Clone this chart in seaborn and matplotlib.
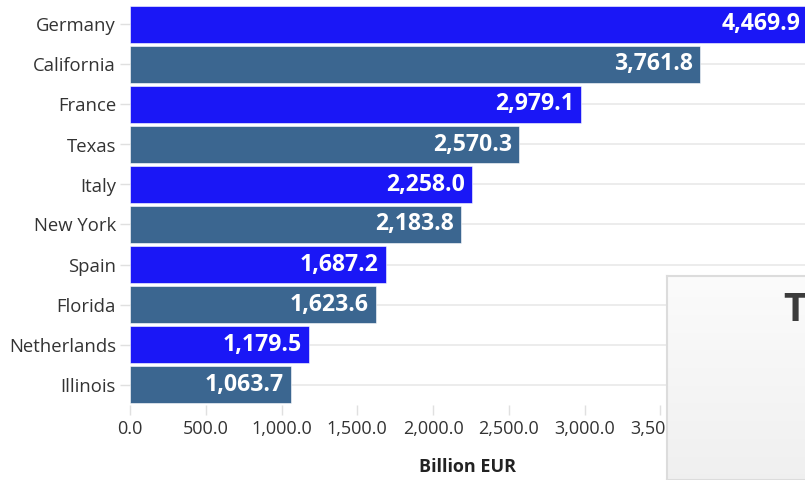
import matplotlib
matplotlib.use("Agg")
import matplotlib.pyplot as plt
from matplotlib.ticker import FuncFormatter, MultipleLocator
import numpy as np
import seaborn as sns
import pandas as pd

# GDP of European countries and US states
regions = ["Germany", "California", "France", "Texas", "Italy",
           "New York", "Spain", "Florida", "Netherlands", "Illinois"]
gdp_billion_eur = [4469.9, 3761.8, 2979.1, 2570.3, 2258.0,
                   2183.8, 1687.2, 1623.6, 1179.5, 1063.7]
region_kind = ["Country", "US state", "Country", "US state", "Country",
               "US state", "Country", "US state", "Country", "US state"]
kind_colors = {"Country": "#1a17f6", "US state": "#3b6690"}
x_title = "Billion EUR"

df = pd.DataFrame({"region": regions, "gdp": gdp_billion_eur, "kind": region_kind})

sns.set_theme(style="white")
plt.rcParams["font.family"] = ["Open Sans", "DejaVu Sans"]

fig = plt.figure(figsize=(8.05, 4.8), dpi=100)
ax = fig.add_axes([130 / 805, 75.5 / 480, (805 - 130) / 805, 400 / 480])

sns.barplot(data=df, y="region", x="gdp", hue="kind", palette=kind_colors,
            dodge=False, legend=False, width=0.925, orient="h", ax=ax,
            saturation=1, zorder=2, edgecolor="#ffffff", linewidth=0.4)

ax.set_xlim(0, 675 / 0.1515)
ax.set_ylim(len(regions) - 0.5, -0.5)

# horizontal guide lines at each category
for i in range(len(regions)):
    ax.axhline(i, color="#ebebeb", linewidth=1.3, zorder=0)

for s in ax.spines.values():
    s.set_visible(False)

ax.xaxis.set_major_locator(MultipleLocator(500))
ax.xaxis.set_major_formatter(FuncFormatter(lambda v, p: f"{v:,.1f}"))
ax.tick_params(axis="x", which="major", bottom=True, length=7, width=1,
               color="#e0e0e0", labelsize=13, labelcolor="#333333", pad=4)
ax.tick_params(axis="y", which="major", left=True, length=7, width=1,
               color="#e0e0e0", labelsize=13.3, labelcolor="#333333", pad=3)
ax.set_ylabel("")
ax.set_xlabel(x_title, fontsize=13, fontweight="bold", color="#222222")
ax.xaxis.set_label_coords(0.5, -(467 - 404.5) / 400, transform=ax.transAxes)
ax.xaxis.label.set_va("center")

# value labels inside bar ends
for i, v in enumerate(gdp_billion_eur):
    ax.annotate(f"{v:,.1f}", xy=(v, i), xytext=(-5, 0), textcoords="offset points",
                ha="right", va="center", color="white", fontsize=16.6,
                fontweight="bold", zorder=5, annotation_clip=False)

# popup panel in the lower right corner
pl, pt = 667 / 805, (480 - 276) / 480
pax = fig.add_axes([pl, 0, 1 - pl + 0.01, pt], zorder=10)
grad = np.linspace(0.985, 0.94, 256).reshape(-1, 1)
pax.imshow(np.dstack([grad, grad, grad]), aspect="auto", extent=(0, 1, 0, 1),
           origin="upper")
pax.set_xlim(0, 1)
pax.set_ylim(0, 1)
pax.set_xticks([])
pax.set_yticks([])
for s in pax.spines.values():
    s.set_color("#dcdcdc")
    s.set_linewidth(1.5)
pax.text((783 / 805 - pl) / (1 - pl + 0.01), 1 - (323 - 276) / 276, "T",
         transform=pax.transAxes, fontsize=29, fontweight="bold",
         color="#3c3c3c", ha="left", va="center")

fig.savefig("out.png", dpi=100)
